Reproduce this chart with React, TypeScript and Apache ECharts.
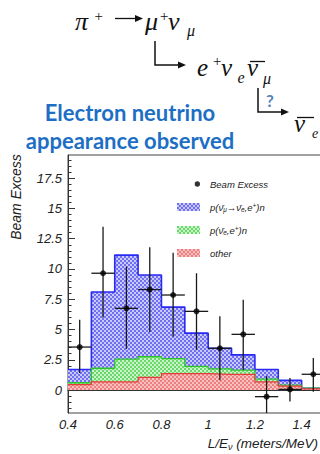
import React, { useEffect, useRef } from 'react';
import * as echarts from 'echarts';

// ---- data ----
const binEdges = [0.4, 0.5, 0.6, 0.7, 0.8, 0.9, 1.0, 1.1, 1.2, 1.3, 1.4, 1.5];
// stacked tops of each component (blue = total prediction)
const oscTop = [1.7, 8.1, 11.15, 9.5, 6.85, 4.7, 3.45, 2.9, 1.7, 0.8, 0.15];
const nueTop = [0.6, 1.8, 2.55, 2.75, 2.6, 1.95, 1.75, 1.65, 0.9, 0.4, 0.15];
const otherTop = [0.45, 0.68, 0.68, 1.05, 1.35, 1.35, 1.3, 1.3, 0.68, 0.32, 0.1];

const excessX = [0.45, 0.55, 0.65, 0.75, 0.85, 0.95, 1.05, 1.15, 1.25, 1.35, 1.45];
const excessY = [3.55, 9.65, 6.75, 8.3, 7.85, 6.5, 3.45, 4.6, -0.55, 0.05, 1.3];
const excessHi = [5.8, 13.5, 10.2, 11.8, 11.35, 9.65, 6.1, 7.45, 1.15, 1.0, 2.65];
const excessLo = [1.4, 6.0, 3.4, 4.8, 4.4, 3.3, 0.8, 1.65, -3.0, -0.95, -0.15];

const yTickLabels = [0, 2.5, 5, 7.5, 10, 12.5, 15, 17.5];

const seriesNames = ['Beam Excess', 'p(ν̄μ→ν̄e,e+)n', 'p(ν̄e,e+)n', 'other'];

const SANS = '"Liberation Sans", Arial, Helvetica, sans-serif';
const SERIF = '"Liberation Serif", "Times New Roman", serif';

function makePattern(c1: string, c2: string) {
  const cv = document.createElement('canvas');
  cv.width = 4;
  cv.height = 4;
  const ctx = cv.getContext('2d')!;
  ctx.fillStyle = c1;
  ctx.fillRect(0, 0, 4, 4);
  ctx.fillStyle = c2;
  ctx.fillRect(0, 0, 2, 2);
  ctx.fillRect(2, 2, 2, 2);
  return { image: cv.toDataURL(), repeat: 'repeat', imageWidth: 4, imageHeight: 4 } as any;
}

function stepData(tops: number[]) {
  const d: number[][] = tops.map((v, i) => [binEdges[i], v]);
  d.push([binEdges[binEdges.length - 1], tops[tops.length - 1]]);
  return d;
}

export default function App() {
  const ref = useRef<HTMLDivElement>(null);
  useEffect(() => {
    if (!ref.current) return;
    const chart = echarts.init(ref.current, null, { renderer: 'svg' });
    const bluePat = makePattern('#c8c8fb', '#6f6ff2');
    const greenPat = makePattern('#c9f3c9', '#6cd86c');
    const redPat = makePattern('#f9c0c0', '#ec8080');

    const yMinor: number[] = [];
    for (let v = -1.5; v <= 19.4; v += 0.5) {
      const r = Math.round(v * 10) / 10;
      if (Math.abs(r / 2.5 - Math.round(r / 2.5)) > 1e-6) yMinor.push(r);
    }
    const xMinor: number[] = [];
    for (let v = 0.45; v < 1.5; v += 0.05) {
      const r = Math.round(v * 100) / 100;
      if (Math.abs(r / 0.2 - Math.round(r / 0.2)) > 1e-6) xMinor.push(r);
    }

    const circleIcon = 'path://M0,3L0.05,3L0.05,3.05Z M20,3A3,3 0 1 1 26,3A3,3 0 1 1 20,3Z';

    const legendFmt: Record<string, string> = {
      'Beam Excess': 'Beam Excess',
      'p(ν̄μ→ν̄e,e+)n': 'p(ν̄{s|μ}→ν̄{s|e},e{p|+})n',
      'p(ν̄e,e+)n': 'p(ν̄{s|e},e{p|+})n',
      other: 'other',
    };

    const m1 = { fontFamily: SERIF, fontStyle: 'italic', fontSize: 26, fill: '#111' };
    const m2 = { fontFamily: SERIF, fontStyle: 'italic', fontSize: 25, fill: '#111' };
    const sup = { fontFamily: SERIF, fontStyle: 'italic', fontSize: 15, fill: '#111' };
    const sub = { fontFamily: SERIF, fontStyle: 'italic', fontSize: 16, fill: '#111' };
    const t = (x: number, y: number, text: string, st: any) => ({
      type: 'text', x, y, style: { ...st, text, align: 'left', verticalAlign: 'middle' },
    });

    chart.setOption({
      animation: false,
      grid: {
        left: 68, top: 155, right: -5, bottom: 41, show: true, borderColor: '#444', borderWidth: 1,
        containLabel: false, outerBoundsMode: 'none',
      },
      legend: {
        left: 172, top: 173.5, orient: 'vertical', itemWidth: 23, itemHeight: 8, itemGap: 12,
        selectedMode: false,
        formatter: (n: string) => legendFmt[n] || n,
        textStyle: {
          fontFamily: SANS, fontStyle: 'italic', fontSize: 9.5, color: '#222', lineHeight: 11,
          padding: [0, 0, 0, 5],
          rich: {
            s: { fontFamily: SANS, fontStyle: 'italic', fontSize: 6.5, color: '#222', padding: [4, 0, 0, 0] },
            p: { fontFamily: SANS, fontStyle: 'italic', fontSize: 6.5, color: '#222', padding: [0, 0, 4, 0] },
          },
        },
        data: [
          { name: seriesNames[0], icon: circleIcon, itemStyle: { color: '#000', borderWidth: 0 } },
          { name: seriesNames[1], icon: 'rect', itemStyle: { color: bluePat, borderWidth: 0 } },
          { name: seriesNames[2], icon: 'rect', itemStyle: { color: greenPat, borderWidth: 0 } },
          { name: seriesNames[3], icon: 'rect', itemStyle: { color: redPat, borderWidth: 0 } },
        ],
      },
      xAxis: [
        {
          type: 'value', min: 0.4, max: 1.5, interval: 0.2,
          axisLine: { lineStyle: { color: '#333', width: 1 } },
          axisTick: { inside: true, length: 6, lineStyle: { color: '#333' } },
          axisLabel: {
            fontFamily: SANS, fontStyle: 'italic', fontSize: 13, color: '#222', margin: 5,
            showMaxLabel: false,
          },
          splitLine: { show: false },
        },
        {
          type: 'value', min: 0.4, max: 1.5, position: 'bottom', gridIndex: 0,
          axisLine: { show: false },
          axisTick: { inside: true, length: 3, customValues: xMinor, lineStyle: { color: '#333' } },
          axisLabel: { show: false },
          splitLine: { show: false },
        },
      ],
      yAxis: [
        {
          type: 'value', min: -1.9, max: 19.42,
          axisLine: { show: true, lineStyle: { color: '#333', width: 1 } },
          axisTick: { show: true, inside: true, length: 7, customValues: yTickLabels, lineStyle: { color: '#333' } },
          axisLabel: {
            fontFamily: SANS, fontStyle: 'italic', fontSize: 13, color: '#222', margin: 6,
            customValues: yTickLabels,
          },
          splitLine: { show: false },
        },
        {
          type: 'value', min: -1.9, max: 19.42, position: 'left', offset: 0,
          axisLine: { show: false },
          axisTick: { show: true, inside: true, length: 3.5, customValues: yMinor, lineStyle: { color: '#333' } },
          axisLabel: { show: false },
          splitLine: { show: false },
        },
      ],
      graphic: [
        // decay chain
        t(75, 21, 'π', m1),
        t(93.5, 15.5, '+', sup),
        { type: 'line', shape: { x1: 115, y1: 18.5, x2: 138, y2: 18.5 }, style: { stroke: '#111', lineWidth: 1.3 } },
        { type: 'polygon', shape: { points: [[135, 15], [143, 18.5], [135, 22]] }, style: { fill: '#111' } },
        t(145, 21, 'μ', m1),
        t(159, 15.5, '+', sup),
        t(168, 21, 'ν', m1),
        t(187, 30.6, 'μ', sub),
        { type: 'polyline', shape: { points: [[155, 41], [155, 65], [180, 65]] }, style: { stroke: '#111', lineWidth: 1.5, fill: null } },
        { type: 'polygon', shape: { points: [[178, 61.5], [186, 65], [178, 68.5]] }, style: { fill: '#111' } },
        t(197, 67.5, 'e', m2),
        t(212, 60.8, '+', sup),
        t(221, 67.5, 'ν', m2),
        t(237.5, 77.6, 'e', sub),
        t(247, 67.5, 'ν', m2),
        { type: 'line', shape: { x1: 250, y1: 61.5, x2: 265, y2: 61.5 }, style: { stroke: '#111', lineWidth: 1.3 } },
        t(263, 78.6, 'μ', sub),
        { type: 'polyline', shape: { points: [[258, 88], [258, 112], [283, 112]] }, style: { stroke: '#111', lineWidth: 1.5, fill: null } },
        { type: 'polygon', shape: { points: [[281, 108.5], [289, 112], [281, 115.5]] }, style: { fill: '#111' } },
        { type: 'text', x: 270, y: 100, style: { text: '?', fontFamily: 'Lato', fontWeight: 'bold', fontSize: 17, fill: '#5a82b8', align: 'center', verticalAlign: 'middle' } },
        t(294, 123.5, 'ν', m2),
        { type: 'line', shape: { x1: 297, y1: 117.5, x2: 314, y2: 117.5 }, style: { stroke: '#111', lineWidth: 1.3 } },
        t(312, 133, 'e', { ...sub, fontSize: 14 }),
        // headline
        {
          type: 'text', x: 130, y: 98,
          style: {
            text: 'Electron neutrino\nappearance observed',
            fontFamily: 'Lato', fontWeight: 'bold', fontSize: 22, lineHeight: 28,
            fill: '#1c6fc4', align: 'center', verticalAlign: 'top',
          },
        },
        // y axis title
        {
          type: 'text', x: 16, y: 197, rotation: Math.PI / 2,
          style: {
            text: 'Beam Excess', fontFamily: SANS, fontStyle: 'italic', fontSize: 14, fill: '#222',
            align: 'center', verticalAlign: 'middle',
          },
        },
        // x axis title
        {
          type: 'text', x: 318, y: 443,
          style: {
            text: '{a|L/E}{s|ν}{a| (meters/MeV)}',
            align: 'right', verticalAlign: 'middle',
            rich: {
              a: { fontFamily: SANS, fontStyle: 'italic', fontSize: 13.5, fill: '#222', lineHeight: 18 },
              s: { fontFamily: SANS, fontStyle: 'italic', fontSize: 9, fill: '#222', lineHeight: 18, padding: [7, 0, 0, 0] },
            },
          },
        },
      ],
      series: [
        {
          name: seriesNames[1], type: 'line', step: 'end', showSymbol: false, data: stepData(oscTop),
          lineStyle: { color: '#2a2af5', width: 1.6 }, itemStyle: { color: '#2a2af5' },
          areaStyle: { color: bluePat, opacity: 1 }, z: 2,
        },
        {
          name: seriesNames[2], type: 'line', step: 'end', showSymbol: false, data: stepData(nueTop),
          lineStyle: { color: '#2ec42e', width: 1.3 }, itemStyle: { color: '#2ec42e' },
          areaStyle: { color: greenPat, opacity: 1 }, z: 2,
        },
        {
          name: seriesNames[3], type: 'line', step: 'end', showSymbol: false, data: stepData(otherTop),
          lineStyle: { color: '#e83a3a', width: 1.2 }, itemStyle: { color: '#e83a3a' },
          areaStyle: { color: redPat, opacity: 1 }, z: 2,
        },
        {
          name: 'errors', type: 'custom', clip: true, z: 4,
          data: excessX.map((x, i) => [x, excessLo[i], excessHi[i], excessY[i]]),
          encode: { x: 0, y: [1, 2] },
          renderItem: (params: any, api: any) => {
            const x = api.value(0);
            const lo = api.value(1);
            const hi = api.value(2);
            const y = api.value(3);
            const a = api.coord([x, lo]);
            const b = api.coord([x, hi]);
            const c = api.coord([x - 0.05, y]);
            const d = api.coord([x + 0.05, y]);
            const st = { stroke: '#1a1a1a', lineWidth: 1.3 };
            return {
              type: 'group',
              children: [
                { type: 'line', shape: { x1: a[0], y1: a[1], x2: b[0], y2: b[1] }, style: st },
                { type: 'line', shape: { x1: c[0], y1: c[1], x2: d[0], y2: d[1] }, style: st },
              ],
            };
          },
        },
        {
          name: seriesNames[0], type: 'scatter', symbol: 'circle', symbolSize: 6, z: 5,
          itemStyle: { color: '#000' },
          data: excessX.map((x, i) => [x, excessY[i]]),
        },
      ],
    } as any);
    return () => chart.dispose();
  }, []);
  return <div ref={ref} style={{ position: 'fixed', left: 0, top: 0, width: 320, height: 454, background: '#fff' }} />;
}
